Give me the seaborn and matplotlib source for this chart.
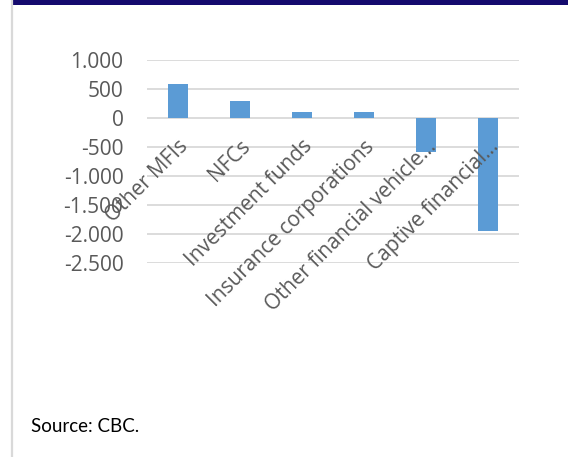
import matplotlib
matplotlib.use("Agg")
import matplotlib.pyplot as plt
import seaborn as sns
import pandas as pd
from matplotlib.ticker import FuncFormatter
from matplotlib.patches import Rectangle
from matplotlib.lines import Line2D

categories = ["Other MFIs", "NFCs", "Investment funds", "Insurance corporations",
              "Other financial vehicle\u2026", "Captive financial\u2026"]
values = [580, 300, 100, 100, -580, -1950]
y_ticks = [1000, 500, 0, -500, -1000, -1500, -2000, -2500]
source_text = "Source: CBC."

sns.set_theme(style="white")
plt.rcParams['font.family'] = ['Open Sans', 'DejaVu Sans']

fig = plt.figure(figsize=(5.68, 4.57), dpi=100)
W, H = 568, 457
ax = fig.add_axes([147 / W, 1 - 263 / H, (519 - 147) / W, (263 - 60) / H])

for yv in y_ticks:
    ax.axhline(yv, color="#d9d9d9", linewidth=1.3, zorder=0.5)

df = pd.DataFrame({"cat": categories, "val": values})
sns.barplot(data=df, x="cat", y="val", color="#5b9bd5", saturation=1,
            width=0.31, ax=ax, edgecolor="none", zorder=1)

ax.set_xlim(-0.5, len(categories) - 0.5)
ax.set_ylim(min(y_ticks), max(y_ticks))
ax.set_yticks(y_ticks)
ax.yaxis.set_major_formatter(FuncFormatter(lambda v, p: f"{v:,.0f}".replace(",", ".")))
ax.grid(False)
ax.set_axisbelow(False)
ax.set_xlabel("")
ax.set_ylabel("")
for s in ["top", "right", "left", "bottom"]:
    ax.spines[s].set_visible(False)
ax.spines["bottom"].set_position(("data", 0))

ax.tick_params(axis="y", length=0, pad=17, labelsize=15, labelcolor="#595959")
ax.tick_params(axis="x", length=0, pad=13, labelsize=15, labelcolor="#595959")
for lbl in ax.get_xticklabels():
    lbl.set_rotation(45)
    lbl.set_ha("right")
    lbl.set_va("top")
    lbl.set_rotation_mode("anchor")

# decorations: top navy band and left grey border
fig.add_artist(Rectangle((12.5 / W, 1 - 4.5 / H), 1, 4.5 / H, transform=fig.transFigure,
                         facecolor="#140a6e", edgecolor="none"))
fig.add_artist(Line2D([11.8 / W, 11.8 / W], [0, 1], transform=fig.transFigure,
                      color="#d9d9d9", linewidth=1.6))

fig.text(31 / W, 1 - 432 / H, source_text, fontsize=13.5, color="#000000",
         family=["Lato", "DejaVu Sans"], ha="left", va="baseline")

fig.savefig("out.png", dpi=100, facecolor="white")
